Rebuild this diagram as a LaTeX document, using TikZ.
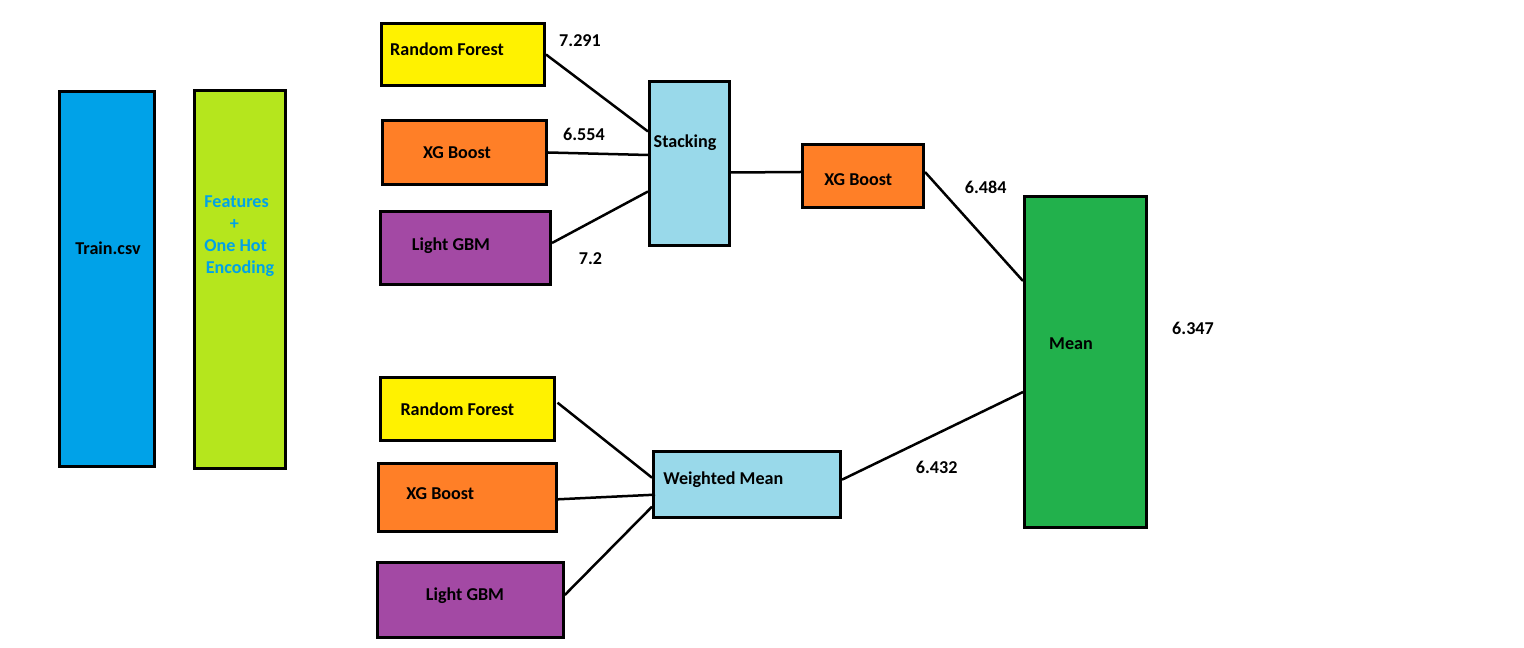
\documentclass[tikz,border=0pt]{standalone}
\usepackage{fontspec}
\setmainfont{Carlito}
\usetikzlibrary{calc}

\definecolor{trainblue}{HTML}{00A2E8}
\definecolor{featgreen}{HTML}{B5E61D}
\definecolor{rfyellow}{HTML}{FFF200}
\definecolor{xgorange}{HTML}{FF7F27}
\definecolor{lgpurple}{HTML}{A349A4}
\definecolor{ensblue}{HTML}{99D9EA}
\definecolor{meangreen}{HTML}{22B14C}

\begin{document}
\begin{tikzpicture}[x=0.2mm, y=-0.2mm,
  box/.style={draw, line width=0.6mm, inner sep=0pt},
  txt/.style={font=\bfseries\fontsize{10.3}{12.5}\selectfont, inner sep=0pt},
  link/.style={line width=0.5mm}]
\useasboundingbox (0,0) rectangle (1524,648);

% Input data
\node[box, fill=trainblue, minimum width=19mm, minimum height=75mm] (train) at (107,279) {};
\node[box, fill=featgreen, minimum width=18.2mm, minimum height=75.6mm] (feat) at (240,279.5) {};
\node[txt] (trainTxt) at (108,248) {Train.csv};
\node[txt, text=trainblue, align=left, anchor=west] (featTxt) at (204,236) {Features\\\hspace*{5.1mm}+\\One Hot\\\hspace*{0.3mm}Encoding};

% Stacking branch
\node[box, fill=rfyellow, minimum width=32.6mm, minimum height=12.4mm] (rfA) at (463,54.5) {};
\node[box, fill=xgorange, minimum width=32.8mm, minimum height=12.8mm] (xgA) at (464.5,152.5) {};
\node[box, fill=lgpurple, minimum width=34mm, minimum height=14.6mm] (lgA) at (465.5,248) {};
\node[box, fill=ensblue, minimum width=16mm, minimum height=32.8mm] (stack) at (689.5,163.5) {};
\node[box, fill=xgorange, minimum width=24.2mm, minimum height=12.6mm] (xgC) at (863,176) {};
\node[txt] (rfATxt) at (447,49.3) {Random Forest};
\node[txt] (xgATxt) at (457,152.7) {XG Boost};
\node[txt] (lgATxt) at (451,245.7) {Light GBM};
\node[txt] (stackTxt) at (685,142.7) {Stacking};
\node[txt] (xgCTxt) at (858.3,179.3) {XG Boost};
\node[txt] (rfAScore) at (580,40.7) {7.291};
\node[txt] (xgAScore) at (584,134.3) {6.554};
\node[txt] (lgAScore) at (590.5,258.3) {7.2};
\node[txt] (xgCScore) at (985.7,187.3) {6.484};

% Weighted mean branch
\node[box, fill=rfyellow, minimum width=34.8mm, minimum height=12.6mm] (rfB) at (467,408.7) {};
\node[box, fill=xgorange, minimum width=35.6mm, minimum height=13.6mm] (xgB) at (467.5,497.3) {};
\node[box, fill=lgpurple, minimum width=37.2mm, minimum height=15mm] (lgB) at (470.3,600.5) {};
\node[box, fill=ensblue, minimum width=37.4mm, minimum height=13.2mm] (wmean) at (747,484.7) {};
\node[txt] (rfBTxt) at (457.3,409.3) {Random Forest};
\node[txt] (xgBTxt) at (440.3,493.3) {XG Boost};
\node[txt] (lgBTxt) at (465,595.3) {Light GBM};
\node[txt] (wmeanTxt) at (723.3,479.3) {Weighted Mean};
\node[txt] (wmeanScore) at (936.7,467.7) {6.432};

% Final mean
\node[box, fill=meangreen, minimum width=24.4mm, minimum height=66.2mm] (mean) at (1085.5,362) {};
\node[txt] (meanTxt) at (1071,343.3) {Mean};
\node[txt] (meanScore) at (1193,328.3) {6.347};

% Connectors
\draw[link] (rfA.east) -- ($(stack.west)+(0,-32)$);
\draw[link] (xgA.east) -- ($(stack.west)+(0,-8.5)$);
\draw[link] ($(lgA.east)+(0,-5)$) -- ($(stack.west)+(0,28)$);
\draw[link] ($(stack.east)+(0,9)$) -- ($(xgC.west)+(0,-4)$);
\draw[link] ($(xgC.east)+(0,-4)$) -- ($(mean.west)+(0,-81)$);
\draw[link] ($(rfB.east)+(2,-6)$) -- ($(wmean.west)+(0,-7)$);
\draw[link] ($(xgB.east)+(0,2)$) -- ($(wmean.west)+(3,10)$);
\draw[link] ($(lgB.east)+(0,-5.5)$) -- ($(wmean.west)+(0,22)$);
\draw[link] ($(wmean.east)+(0,-5)$) -- ($(mean.west)+(0,30)$);
\end{tikzpicture}
\end{document}
